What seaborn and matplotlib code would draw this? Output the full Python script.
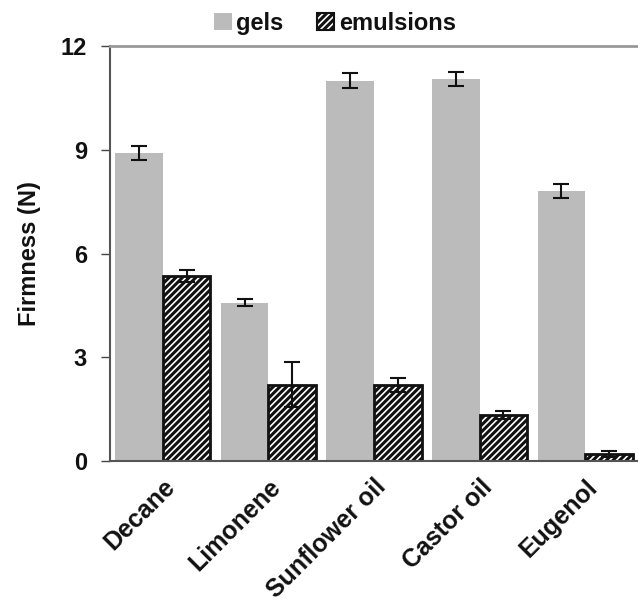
import matplotlib
matplotlib.use("Agg")
import matplotlib.pyplot as plt
import matplotlib.transforms as mtransforms
import seaborn as sns
import pandas as pd
import numpy as np
from matplotlib.patches import Patch

categories = ["Decane", "Limonene", "Sunflower oil", "Castor oil", "Eugenol"]
gels = [8.9, 4.58, 11.0, 11.05, 7.8]
gels_err = [0.2, 0.1, 0.22, 0.2, 0.2]
emulsions = [5.35, 2.2, 2.2, 1.33, 0.2]
emulsions_err = [0.18, 0.65, 0.2, 0.12, 0.08]
series = ["gels", "emulsions"]
yticks = [0, 3, 6, 9, 12]

sns.set_theme(style="white")
plt.rcParams["font.family"] = ["Liberation Sans", "DejaVu Sans"]
plt.rcParams["hatch.linewidth"] = 2.2
plt.rcParams["text.color"] = "#111111"
plt.rcParams["xtick.color"] = "#111111"
plt.rcParams["ytick.color"] = "#111111"
plt.rcParams["axes.labelcolor"] = "#111111"

df = pd.DataFrame({
    "cat": categories * 2,
    "series": [series[0]] * 5 + [series[1]] * 5,
    "val": gels + emulsions,
    "err": gels_err + emulsions_err,
})

fig = plt.figure(figsize=(6.38, 6.07), dpi=100)
ax = fig.add_axes([0.1724, 0.2405, 0.8276, 0.6837])

sns.barplot(data=df, x="cat", y="val", hue="series", order=categories,
            hue_order=series, palette=["#bbbbbb", "white"], width=0.9,
            ax=ax, legend=False, errorbar=None, saturation=1)

n = len(categories)
patches = ax.patches[:2 * n]
for i, p in enumerate(patches):
    s = i // n
    if s == 0:
        p.set_edgecolor("none")
        p.set_linewidth(0)
    else:
        p.set_facecolor("white")
        p.set_edgecolor("#111111")
        p.set_hatch("/////")
        p.set_linewidth(2.0)
    xc = p.get_x() + p.get_width() / 2
    h = p.get_height()
    e = df["err"].iloc[i]
    ax.errorbar(xc, h, yerr=e, fmt="none", ecolor="#111111", elinewidth=1.5,
                capsize=6, capthick=1.5, zorder=5)

ax.set_xlim(-0.5, 4.5)
ax.set_ylim(0, 12)
ax.set_yticks(yticks)
ax.set_yticklabels([str(t) for t in yticks], fontsize=17, fontweight="bold")
ax.set_xticks(range(n))
ax.set_xticklabels(categories, rotation=45, ha="right", rotation_mode="anchor",
                   fontsize=18, fontweight="bold")
offset = mtransforms.ScaledTranslation(-5 / 100, 0, fig.dpi_scale_trans)
for lab in ax.get_xticklabels():
    lab.set_transform(lab.get_transform() + offset)
ax.set_xticks(np.arange(-0.5, n, 1.0), minor=True)
ax.tick_params(axis="x", which="major", length=0, pad=10)
ax.tick_params(axis="x", which="minor", length=6, width=1, color="#444444", direction="out")
ax.tick_params(axis="y", length=6.5, width=1, color="#444444", direction="out", pad=10, left=True)
ax.set_xlabel("")
ax.set_ylabel("Firmness (N)", fontsize=17, fontweight="bold", labelpad=14)

for side in ["left", "bottom"]:
    ax.spines[side].set_color("#555555")
    ax.spines[side].set_linewidth(1.5)
ax.spines["top"].set_color("#999999")
ax.spines["top"].set_linewidth(2)
ax.spines["right"].set_visible(False)

handles = [Patch(facecolor="#bbbbbb", edgecolor="none", label="gels"),
           Patch(facecolor="white", edgecolor="#111111", hatch="/////", linewidth=1.5, label="emulsions")]
leg = fig.legend(handles=handles, loc="center", bbox_to_anchor=(0.525, 0.962), ncol=2,
                 frameon=False, handlelength=0.75, handleheight=0.75, handletextpad=0.2,
                 columnspacing=1.4, prop={"size": 17, "weight": "bold"})

fig.savefig("out.png", dpi=100)
